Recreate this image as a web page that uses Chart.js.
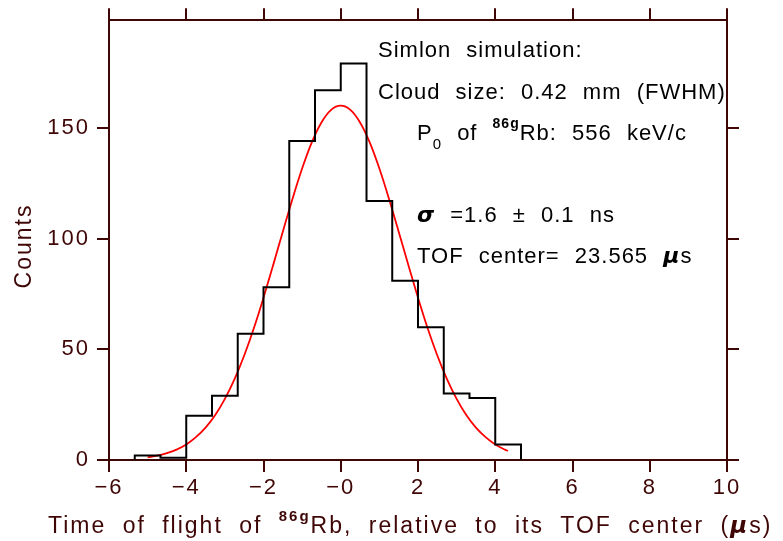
<!DOCTYPE html>
<html>
<head>
<meta charset="utf-8">
<script src="https://cdn.jsdelivr.net/npm/chart.js@4"></script>
<style>
  html, body { margin: 0; padding: 0; background: #fff; }
  canvas { display: block; }
</style>
</head>
<body>
<canvas id="tofChart" width="783" height="541"></canvas>
<script>
// == Data ==
// histogram bins (edges in us) and counts per bin
const binEdges = [-5.333, -4.667, -4, -3.333, -2.667, -2, -1.333, -0.667, 0, 0.667, 1.333, 2, 2.667, 3.333, 4, 4.667];
const binCounts = [2, 1, 20, 29, 57, 78, 144, 167, 179, 117, 81, 60, 30, 28, 7];

// gaussian fit, sampled along the red curve
const fitX = [-5, -4.75, -4.5, -4.25, -4, -3.75, -3.5, -3.25, -3, -2.75, -2.5, -2.25, -2, -1.75, -1.5, -1.25, -1, -0.75, -0.5, -0.25,
    0, 0.25, 0.5, 0.75, 1, 1.25, 1.5, 1.75, 2, 2.25, 2.5, 2.75, 3, 3.25, 3.5, 3.75, 4, 4.25, 4.33];
const fitY = [1.2, 2.0, 3.1, 4.7, 7.0, 10.3, 14.6, 20.3, 27.6, 36.5, 47.2, 59.5, 73.3, 88.0, 103.1, 117.9, 131.6, 143.4, 152.4, 158.1,
    160, 158.1, 152.4, 143.4, 131.6, 117.9, 103.1, 88.0, 73.3, 59.5, 47.2, 36.5, 27.6, 20.3, 14.6, 10.3, 7.0, 4.7, 4.1];

const xTicks = [-6, -4, -2, 0, 2, 4, 6, 8, 10];
const xTickLabels = ['\u22126', '\u22124', '\u22122', '\u22120', '2', '4', '6', '8', '10'];
const yTicks = [0, 50, 100, 150];
const yTickLabels = ['0', '50', '100', '150'];

const yTitle = 'Counts';
const infoLines = {
    sim: 'Simlon simulation:',
    cloud: 'Cloud size: 0.42 mm (FWHM)',
    momentum: ['P', '0', ' of ', '86g', 'Rb: 556 keV/c'],
    sigma: ['\u03c3', ' =1.6 \u00b1 0.1 ns'],
    center: ['TOF center= 23.565 ', '\u03bc', 's'],
};
const xTitle = ['Time of flight of ', '86g', 'Rb, relative to its TOF center (', '\u03bc', 's)'];

// == Styles ==
const AXIS = '#3f0606';
const FONT = "'Liberation Sans', Arial, sans-serif";
const GREEK = "bold italic 22px 'DejaVu Sans'";

// step outline: vertical at each edge, flat across the bin
const histPoints = [{ x: binEdges[0], y: 0 }]
    .concat(binCounts.map((c, i) => ({ x: binEdges[i], y: c })))
    .concat([{ x: binEdges[binEdges.length - 1], y: 0 }]);
const fitPoints = fitX.map((x, i) => ({ x, y: fitY[i] }));

// draws a row of text pieces one after another
function drawRuns(ctx, x, y, runs, color) {
    ctx.fillStyle = color;
    ctx.textAlign = 'left';
    ctx.textBaseline = 'alphabetic';
    runs.forEach(r => {
        ctx.font = r.font;
        ctx.fillText(r.text, x, y + (r.dy || 0));
        x += ctx.measureText(r.text).width + (r.gap || 0);
    });
}

const labelsPlugin = {
    id: 'labels',
    beforeDraw(chart) {
        chart.ctx.letterSpacing = '2px';
    },
    afterDraw(chart) {
        const ctx = chart.ctx;
        ctx.save();
        ctx.letterSpacing = '1px';
        ctx.wordSpacing = '8px';
        const base = `22px ${FONT}`;
        const small = `bold 14px ${FONT}`;

        drawRuns(ctx, 378, 57, [{ text: infoLines.sim, font: base }], '#000');
        drawRuns(ctx, 378, 99, [{ text: infoLines.cloud, font: base }], '#000');
        const m = infoLines.momentum;
        drawRuns(ctx, 417, 140, [
            { text: m[0], font: base },
            { text: m[1], font: `15px ${FONT}`, dy: 9 },
            { text: m[2], font: base },
            { text: m[3], font: small, dy: -12 },
            { text: m[4], font: base },
        ], '#000');
        drawRuns(ctx, 417, 222, [
            { text: infoLines.sigma[0], font: GREEK },
            { text: infoLines.sigma[1], font: base },
        ], '#000');
        drawRuns(ctx, 417, 263, [
            { text: infoLines.center[0], font: base },
            { text: infoLines.center[1], font: GREEK },
            { text: infoLines.center[2], font: base },
        ], '#000');

        // x axis title
        ctx.letterSpacing = '2px';
        const tFont = `23px ${FONT}`;
        drawRuns(ctx, 48, 533, [
            { text: xTitle[0], font: tFont },
            { text: xTitle[1], font: `bold 15px ${FONT}`, dy: -12 },
            { text: xTitle[2], font: tFont },
            { text: xTitle[3], font: "bold italic 23px 'DejaVu Sans'" },
            { text: xTitle[4], font: tFont },
        ], AXIS);

        // y axis title
        ctx.translate(31, 246);
        ctx.rotate(-Math.PI / 2);
        ctx.font = tFont;
        ctx.fillStyle = AXIS;
        ctx.textAlign = 'center';
        ctx.textBaseline = 'alphabetic';
        ctx.fillText(yTitle, 0, 0);
        ctx.restore();
    }
};

function axis(position, ticks, labels, showLabels, size, min, max) {
    const horizontal = position === 'top' || position === 'bottom';
    return {
        type: 'linear',
        position,
        min,
        max,
        afterBuildTicks: s => { s.ticks = ticks.map(v => ({ value: v })); },
        afterFit: s => { if (horizontal) s.height = size; else s.width = size; },
        ticks: {
            display: showLabels,
            includeBounds: false,
            color: AXIS,
            font: { family: FONT, size: 22 },
            padding: horizontal ? 3 : 7,
            callback: (v, i) => labels[i],
        },
        grid: {
            drawOnChartArea: false,
            drawTicks: true,
            tickLength: 12,
            color: AXIS,
            lineWidth: 2,
        },
        border: { display: true, color: AXIS, width: 2 },
    };
}

new Chart(document.getElementById('tofChart'), {
    type: 'line',
    data: {
        datasets: [
            {
                label: 'Counts',
                data: histPoints,
                stepped: true,
                borderColor: '#000',
                borderWidth: 2,
                pointRadius: 0,
                fill: false,
                xAxisID: 'x',
                yAxisID: 'y',
            },
            {
                label: 'Fit',
                data: fitPoints,
                borderColor: '#ff0000',
                borderWidth: 1.8,
                pointRadius: 0,
                cubicInterpolationMode: 'monotone',
                fill: false,
                xAxisID: 'x',
                yAxisID: 'y',
            },
        ],
    },
    options: {
        responsive: false,
        animation: false,
        devicePixelRatio: 1,
        layout: { padding: 0 },
        plugins: { legend: { display: false }, tooltip: { enabled: false } },
        scales: {
            x: axis('bottom', xTicks, xTickLabels, true, 81, -6, 10),
            x2: axis('top', xTicks, xTickLabels, false, 20, -6, 10),
            y: axis('left', yTicks, yTickLabels, true, 109, 0, 198.6),
            y2: axis('right', yTicks, yTickLabels, false, 56, 0, 198.6),
        },
    },
    plugins: [labelsPlugin],
});
</script>
</body>
</html>
